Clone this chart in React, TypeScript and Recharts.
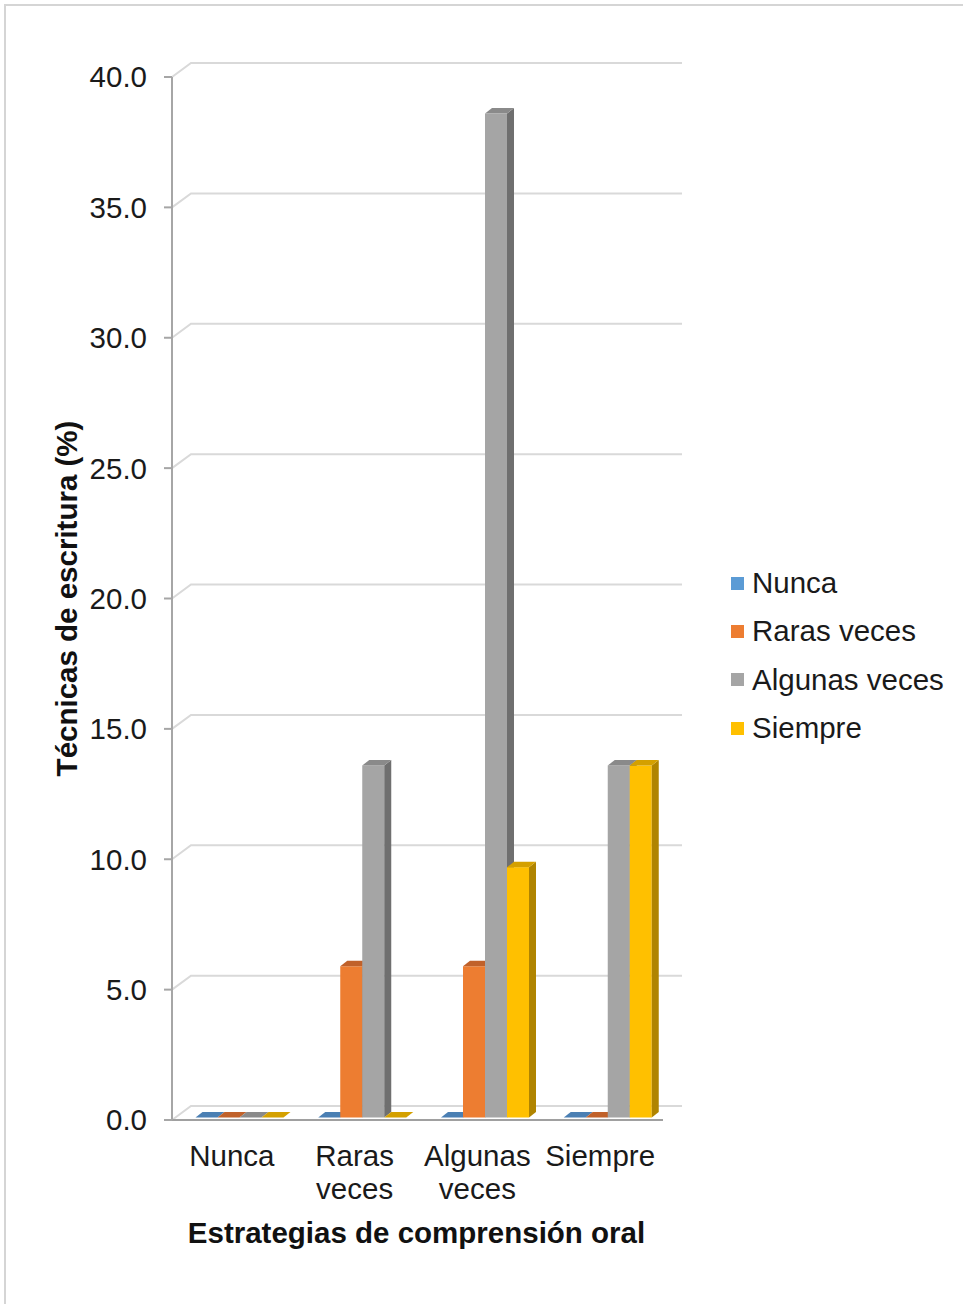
import React from 'react';
import {
  Bar,
  BarChart,
  CartesianGrid,
  Legend,
  XAxis,
  YAxis,
} from 'recharts';

const categories = ['Nunca', 'Raras veces', 'Algunas veces', 'Siempre'];
const nunca = [0, 0, 0, 0];
const rarasVeces = [0, 5.8, 5.8, 0];
const algunasVeces = [0, 13.5, 38.5, 13.5];
const siempre = [0, 0, 9.6, 13.5];
const yTicks = [0, 5, 10, 15, 20, 25, 30, 35, 40];

const FONT = '"Liberation Sans", Arial, sans-serif';
const FS = 29.5;

// front / top / side shades per series
const series = [
  { key: 'nunca', name: 'Nunca', front: '#5B9BD5', top: '#4A7FB3', side: '#3F6E99' },
  { key: 'raras', name: 'Raras veces', front: '#ED7D31', top: '#C0612A', side: '#A9561E' },
  { key: 'algunas', name: 'Algunas veces', front: '#A5A5A5', top: '#8A8A8A', side: '#6F6F6F' },
  { key: 'siempre', name: 'Siempre', front: '#FFC000', top: '#D4A000', side: '#B08400' },
];

const data = categories.map((name, i) => ({
  name,
  nunca: nunca[i],
  raras: rarasVeces[i],
  algunas: algunasVeces[i],
  siempre: siempre[i],
}));

// pseudo 3D offsets
const OX = 6.5;
const OY = -2.5;
const DX = 7;
const DY = -5.5;
const WX = 19;
const WY = -14;

const makeShape = (s: (typeof series)[number]) => (props: any) => {
  const { x, y, width, height } = props;
  if (x == null || y == null) return <g />;
  const fx = x + OX;
  const fy = y + OY;
  const h = Math.max(0, height || 0);
  const w = width;
  const top = `${fx},${fy} ${fx + DX},${fy + DY} ${fx + w + DX},${fy + DY} ${fx + w},${fy}`;
  const side = `${fx + w},${fy} ${fx + w + DX},${fy + DY} ${fx + w + DX},${fy + h + DY} ${fx + w},${fy + h}`;
  return (
    <g>
      {h > 0 && <rect x={fx} y={fy} width={w} height={h} fill={s.front} />}
      {h > 0 && <polygon points={side} fill={s.side} />}
      <polygon points={top} fill={s.top} />
    </g>
  );
};

const GridLine = (p: any) => {
  const { x1, x2, y1, index } = p;
  return (
    <polyline
      key={`g-${index}-${y1}`}
      points={`${x1},${y1} ${x1 + WX},${y1 + WY} ${x2 + WX},${y1 + WY}`}
      fill="none"
      stroke="#D9D9D9"
      strokeWidth={2}
    />
  );
};

const XTick = (props: any) => {
  const { x, y, payload } = props;
  const words = String(payload.value).split(' ');
  const cx = x - 1.5;
  return (
    <text x={cx} y={y} textAnchor="middle" fontFamily={FONT} fontSize={FS} fill="#1a1a1a">
      {words.map((w, i) => (
        <tspan key={w} x={cx} y={1166 + i * 33}>
          {w}
        </tspan>
      ))}
    </text>
  );
};

const LegendBox = () => (
  <div style={{ fontFamily: FONT, fontSize: FS, color: '#1a1a1a' }}>
    {series.map((s) => (
      <div key={s.key} style={{ display: 'flex', alignItems: 'center', height: 48.3 }}>
        <span
          style={{ width: 13, height: 13, background: s.front, display: 'inline-block', marginRight: 8 }}
        />
        <span>{s.name}</span>
      </div>
    ))}
  </div>
);

export default function App() {
  return (
    <div style={{ position: 'absolute', left: 0, top: 0, width: 963, height: 1304, overflow: 'hidden', background: '#fff' }}>
      <div
        style={{
          position: 'absolute',
          left: 4,
          top: 4,
          width: 980,
          height: 1320,
          border: '2px solid #D5D5D5',
        }}
      />
      <BarChart
        width={963}
        height={1304}
        data={data}
        margin={{ top: 77, right: 300, bottom: 84, left: 0 }}
        barSize={22}
        barGap={0}
        style={{ position: 'absolute', left: 0, top: 0 }}
      >
        <CartesianGrid vertical={false} horizontal={GridLine} />
        <XAxis
          dataKey="name"
          height={100}
          tickLine={false}
          axisLine={{ stroke: '#A0A0A0', strokeWidth: 2 }}
          tick={<XTick />}
          interval={0}
          label={(p: any) => {
            const vb = p.viewBox;
            return (
              <text
                x={vb.x + vb.width / 2 - 1}
                y={1243}
                textAnchor="middle"
                fontFamily={FONT}
                fontSize={FS}
                fontWeight="bold"
                fill="#111"
              >
                Estrategias de comprensión oral
              </text>
            );
          }}
        />
        <YAxis
          width={172}
          domain={[0, 40]}
          ticks={yTicks}
          interval={0}
          tickFormatter={(v: number) => v.toFixed(1)}
          tick={{ fontFamily: FONT, fontSize: FS, fill: '#1a1a1a' }}
          tickSize={8}
          tickMargin={17}
          tickLine={{ stroke: '#A6A6A6', strokeWidth: 2 }}
          axisLine={{ stroke: '#A6A6A6', strokeWidth: 2 }}
          label={(p: any) => {
            const vb = p.viewBox;
            const cy = vb.y + vb.height / 2;
            return (
              <text
                x={77}
                y={cy}
                transform={`rotate(-90 77 ${cy})`}
                textAnchor="middle"
                fontFamily={FONT}
                fontSize={FS}
                fontWeight="bold"
                fill="#111"
              >
                Técnicas de escritura (%)
              </text>
            );
          }}
        />
        <Legend
          layout="vertical"
          align="center"
          verticalAlign="middle"
          content={<LegendBox />}
          wrapperStyle={{ left: 731, top: 559, width: 230, right: 'auto', bottom: 'auto' }}
        />
        {series.map((s) => (
          <Bar
            key={s.key}
            dataKey={s.key}
            name={s.name}
            fill={s.front}
            shape={makeShape(s)}
            isAnimationActive={false}
          />
        ))}
      </BarChart>
    </div>
  );
}
